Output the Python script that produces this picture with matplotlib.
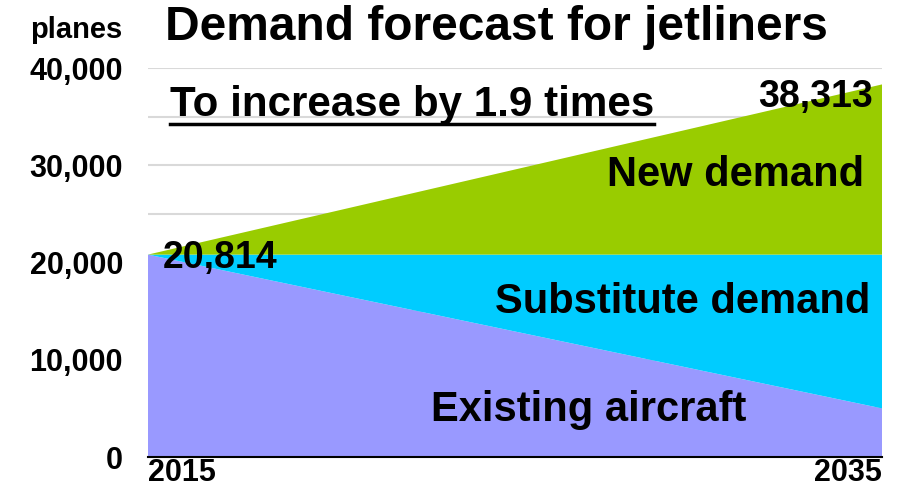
import matplotlib.pyplot as plt
from matplotlib.lines import Line2D
from matplotlib.ticker import MultipleLocator, FuncFormatter

years = [2015, 2035]
existing = [20814, 5000]
substitute = [0, 15814]
new_demand = [0, 17499]
totals = [20814, 38313]
series_names = ["Existing aircraft", "Substitute demand", "New demand"]
colors = ["#9999FF", "#00CCFF", "#99CC00"]

plt.rcParams['font.family'] = ['Liberation Sans', 'DejaVu Sans']
plt.rcParams['font.weight'] = 'bold'

fig = plt.figure(figsize=(8.99, 4.91), dpi=100)
ax = fig.add_axes([0.1646, 0.0692, 0.8165, 0.7923])

ax.stackplot(years, existing, substitute, new_demand, colors=colors, zorder=2, linewidth=0)
ax.set_xlim(years[0], years[-1])
ax.set_ylim(0, 40000)

ax.yaxis.set_major_locator(MultipleLocator(10000))
ax.yaxis.set_minor_locator(MultipleLocator(5000))
ax.yaxis.set_major_formatter(FuncFormatter(lambda v, p: f"{int(v):,}"))
ax.grid(axis='y', which='both', color='#D9D9D9', linewidth=1.5, zorder=0)
ax.set_axisbelow(True)
ax.tick_params(axis='both', which='both', length=0, labelsize=22)
ax.tick_params(axis='x', pad=1)
ax.tick_params(axis='y', pad=18)
ax.set_xticks(years)
xl = ax.get_xticklabels()
xl[0].set_ha('left')
xl[-1].set_ha('right')
for s in ['top', 'right', 'left']:
    ax.spines[s].set_visible(False)
ax.spines['bottom'].set_linewidth(1.5)
ax.spines['bottom'].set_zorder(3)

# value and series labels
ax.text(2015.4, 20460, f"{totals[0]:,}", fontsize=27, ha='left', va='center', zorder=4)
ax.text(2034.75, 37020, f"{totals[1]:,}", fontsize=27, ha='right', va='center', zorder=4)
ax.text(2031.0, 29000, series_names[2], fontsize=30, ha='center', va='center', zorder=4)
ax.text(2029.58, 15940, series_names[1], fontsize=30, ha='center', va='center', zorder=4)
ax.text(2027.0, 4830, series_names[0], fontsize=30, ha='center', va='center', zorder=4)

fig.text(0.1835, 0.943, "Demand forecast for jetliners", fontsize=34.5, ha='left', va='center')
fig.text(0.1357, 0.939, "planes", fontsize=21, ha='right', va='center')
sub = fig.text(0.189, 0.786, "To increase by 1.9 times", fontsize=30.3, ha='left', va='center')

fig.canvas.draw()
bb = sub.get_window_extent().transformed(fig.transFigure.inverted())
uy = 1 - 124 / 491
fig.add_artist(Line2D([bb.x0, bb.x1], [uy, uy], color='black', linewidth=2.5, transform=fig.transFigure))

fig.savefig("out.png", dpi=100)
